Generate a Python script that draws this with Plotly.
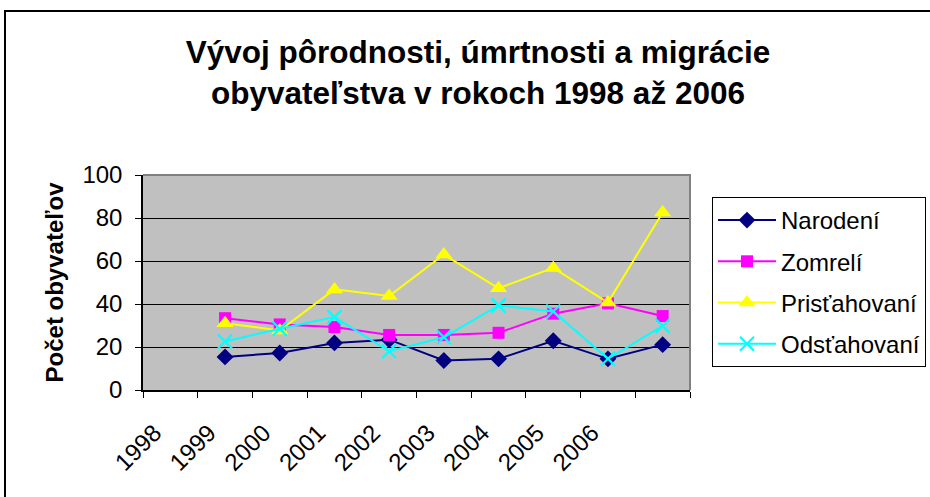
import plotly.graph_objects as go

# ---- data ----
years = ["1998", "1999", "2000", "2001", "2002", "2003", "2004", "2005", "2006"]
narodeni = [15.4, 17.2, 21.9, 23.4, 13.7, 14.5, 22.9, 14.5, 21.1]
zomreli = [33.4, 30.5, 29.3, 25.6, 25.6, 26.6, 35.5, 40.3, 34.4]
pristahovani = [31.1, 27.7, 46.8, 43.7, 63.0, 47.3, 56.8, 40.7, 82.6]
odstahovani = [22.6, 28.5, 33.9, 18.0, 24.5, 39.3, 36.5, 14.5, 29.8]
y_ticks = [0, 20, 40, 60, 80, 100]

series_names = ["Narodení", "Zomrelí", "Prisťahovaní", "Odsťahovaní"]
series_values = [narodeni, zomreli, pristahovani, odstahovani]
colors = ["#000080", "#FF00FF", "#FFFF00", "#00FFFF"]
symbols = ["diamond", "square", "triangle-up", "x-thin"]
sizes = [13, 12, 15, 14]

# category slots: labels sit in slots 1..9, the plotted series is shifted one slot (as in the source chart)
n_slots = len(years) + 1
label_pos = list(range(1, len(years) + 1))
data_pos = list(range(2, len(years) + 2))

FONT = "Liberation Sans, Arial, sans-serif"

fig = go.Figure()
for name, vals, col, sym, sz in zip(series_names, series_values, colors, symbols, sizes):
    marker = dict(symbol=sym, size=sz, color=col)
    if sym == "x-thin":
        marker["line"] = dict(width=2.2, color=col)
    else:
        marker["line"] = dict(width=0)
    fig.add_trace(go.Scatter(
        x=data_pos, y=vals, name=name, mode="lines+markers",
        line=dict(color=col, width=2), marker=marker,
        legendgroup=name,
    ))

# invisible trace on the label axis
fig.add_trace(go.Scatter(x=label_pos, y=[None] * len(label_pos), xaxis="x2",
                         showlegend=False, hoverinfo="skip", mode="markers"))

boundaries = [i + 0.5 for i in range(0, n_slots + 1)]

W, H = 930, 497
L, R, T, B = 143, 240, 175, 107
pw, ph = W - L - R, H - T - B

def px_x(x):
    return (x - L) / pw

def px_y(y):
    return (H - B - y) / ph

fig.update_layout(
    width=W, height=H,
    margin=dict(l=L, r=R, t=T, b=B, pad=0, autoexpand=False),
    paper_bgcolor="white",
    plot_bgcolor="#C0C0C0",
    font=dict(family=FONT, color="black", size=24),
    title=dict(
        text="<b>Vývoj pôrodnosti, úmrtnosti a migrácie<br>obyvateľstva v rokoch 1998 až 2006</b>",
        x=478 / W, xanchor="center", y=1 - 63 / H, yanchor="middle",
        font=dict(family=FONT, size=31.5, color="black"),
    ),
    xaxis=dict(
        range=[0.5, n_slots + 0.5], tickvals=boundaries, ticktext=[""] * len(boundaries),
        ticks="outside", ticklen=6, tickcolor="black", tickwidth=1,
        showline=True, linecolor="black", linewidth=1.5,
        showgrid=False, zeroline=False, fixedrange=True, automargin=False,
    ),
    xaxis2=dict(
        overlaying="x", anchor="y", side="bottom",
        range=[0.5, n_slots + 0.5], tickvals=label_pos, ticktext=years,
        tickangle=-45, ticks="", showline=False, showgrid=False, zeroline=False,
        tickfont=dict(family=FONT, size=24, color="black"),
        ticklabelstandoff=23, ticklabelshift=-16, automargin=False,
    ),
    yaxis=dict(
        range=[0, 100], tickvals=y_ticks,
        ticks="outside", ticklen=6, tickcolor="black", tickwidth=1,
        showline=True, linecolor="black", linewidth=1.5,
        showgrid=True, gridcolor="black", gridwidth=1, zeroline=False,
        tickfont=dict(family=FONT, size=24, color="black"),
        ticklabelstandoff=8, automargin=False,
        title=dict(text="<b>Počet obyvateľov</b>", font=dict(family=FONT, size=24, color="black"), standoff=12),
    ),
    legend=dict(
        x=px_x(712), xanchor="left", y=px_y(197), yanchor="top",
        bgcolor="white", bordercolor="black", borderwidth=1,
        font=dict(family=FONT, size=24, color="black"),
        tracegroupgap=7, itemwidth=58,
    ),
    showlegend=True,
    shapes=[
        # plot-area top/right border (grey)
        dict(type="path", xref="paper", yref="paper", layer="above",
             path="M 0,1 L 1,1 L 1,0", line=dict(color="#808080", width=2)),
        # outer chart frame
        dict(type="path", xref="paper", yref="paper", layer="above",
             path=f"M {px_x(5)},{px_y(505)} L {px_x(5)},{px_y(11)} L {px_x(940)},{px_y(11)}",
             line=dict(color="black", width=2)),
    ],
)

fig.write_html("out.html", config={"displayModeBar": False},
               post_script="document.body.style.margin='0';")
